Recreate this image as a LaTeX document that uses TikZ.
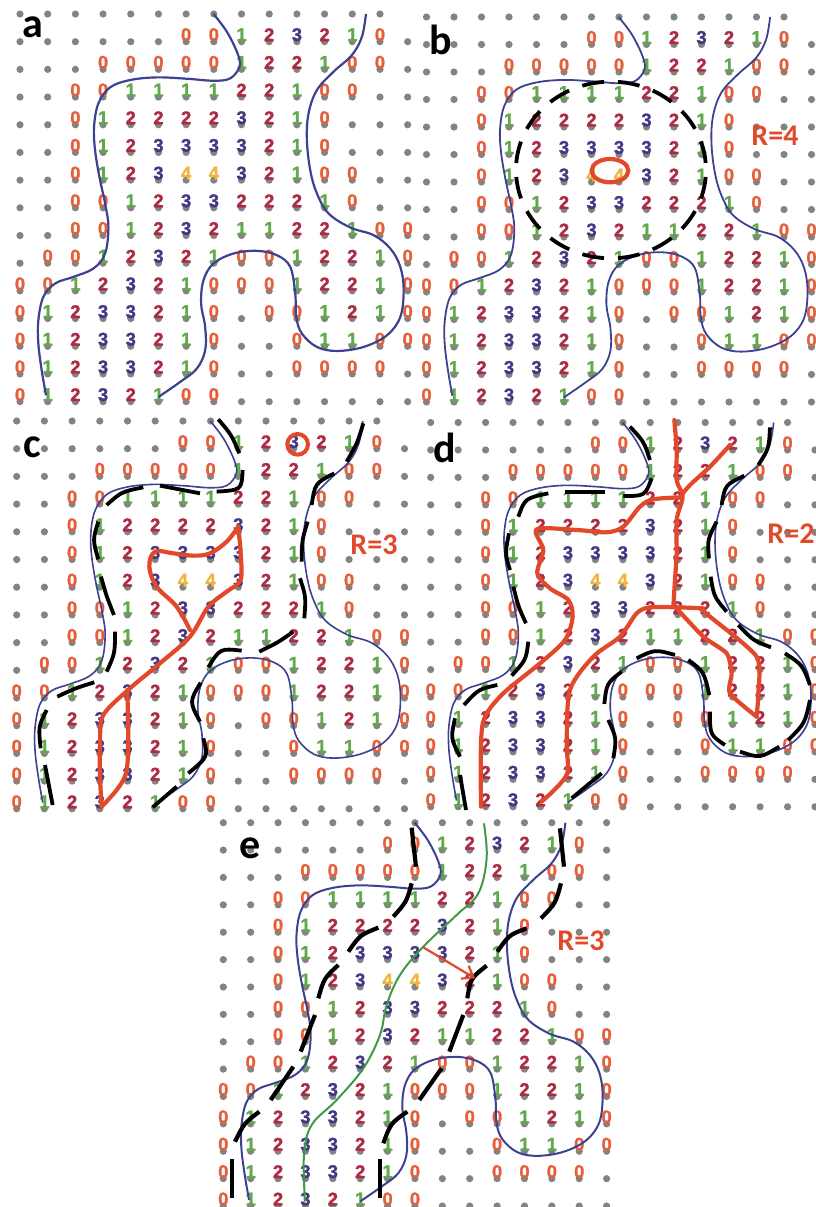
\documentclass[tikz,border=0pt]{standalone}
\usepackage{fontspec}
\usetikzlibrary{arrows.meta}
\newfontfamily\digitfont[BoldFeatures={FakeBold=1.3}]{Liberation Sans}
\newfontfamily\labelfont{Carlito}

\definecolor{zeroc}{HTML}{E5603A}
\definecolor{onec}{HTML}{62A84C}
\definecolor{twoc}{HTML}{AC2B42}
\definecolor{threec}{HTML}{433883}
\definecolor{fourc}{HTML}{EFB53E}
\definecolor{dotc}{HTML}{838383}
\definecolor{wallc}{HTML}{3C4191}
\definecolor{redc}{HTML}{E2492A}
\definecolor{greenc}{HTML}{3F9A48}

\tikzset{
  griddot/.style={fill=dotc},
  digit/.style={inner sep=0pt,font=\digitfont\bfseries\fontsize{18.5}{18.5}\selectfont},
  dig0/.style={text=zeroc},
  dig1/.style={text=onec},
  dig2/.style={text=twoc},
  dig3/.style={text=threec},
  dig4/.style={text=fourc},
  panelname/.style={inner sep=0pt,font=\labelfont\bfseries\fontsize{42}{42}\selectfont},
  radiusname/.style={inner sep=0pt,text=redc,font=\labelfont\bfseries\fontsize{30}{30}\selectfont},
  inkdash/.style={black,line width=3.8pt},
  redline/.style={redc,line width=4.2pt,line join=round,line cap=round},
  zoomed/.style 2 args={shift={(#1,#2)},x=0.3333pt,y=-0.3333pt},
}

% rows 1 to 14 of the grid, a dot alone is written .
\def\gridrows{
  {.,.,.,.,.,.,0,0,1,2,3,2,1,0,.},
  {.,.,.,0,0,0,0,0,1,2,2,1,0,0,.},
  {.,.,0,0,1,1,1,1,2,2,1,0,0,.,.},
  {.,.,0,1,2,2,2,2,3,2,1,0,.,.,.},
  {.,.,0,1,2,3,3,3,3,2,1,0,.,.,.},
  {.,.,0,1,2,3,4,4,3,2,1,0,0,.,.},
  {.,.,0,0,1,2,3,3,2,2,2,1,0,.,.},
  {.,.,0,0,1,2,3,2,1,1,2,2,1,0,0},
  {.,0,0,1,2,3,2,1,0,0,1,2,2,1,0},
  {0,0,1,2,3,2,1,0,0,0,1,2,2,1,0},
  {0,1,2,3,3,2,1,0,.,0,0,1,2,1,0},
  {0,1,2,3,3,2,1,0,.,.,0,1,1,0,0},
  {0,1,2,3,3,2,1,0,.,.,0,0,0,0,.},
  {0,1,2,3,2,1,0,0,.,.,.,.,.,.,.}}

% #1 name, #2 #3 first dot, #4 spacing, #5 last dot of top row, #6 wall width
\newcommand{\digitpanel}[6]{
  \begin{scope}[shift={(#2,#3)}]
    \foreach \cl in {0,...,#5} {
      \fill[griddot] (\cl*#4,0) circle (3.6);
    }
    \foreach \row [count=\rw] in \gridrows {
      \foreach \v [count=\cl from 0] in \row {
        \fill[griddot] (\cl*#4,\rw*#4) circle (3.6);
        \if\v.\else
          \node[digit,dig\v] (#1-\rw-\cl) at (\cl*#4,\rw*#4-7) {\v};
        \fi
      }
    }
    \pgfmathsetmacro\zk{#4/83}
    \begin{scope}[x=\zk pt,y=-\zk pt,shift={(-60,-42)}]
      \draw[wallc,line width=#6] plot[smooth,tension=0.6] coordinates {
        (640,42) (680,95) (712,160) (718,200) (690,235) (640,242) (560,236)
        (470,232) (390,240) (330,262) (295,310) (282,380) (285,450) (298,530)
        (315,610) (325,680) (315,760) (280,805) (220,830) (165,850) (130,890)
        (115,960) (115,1030) (125,1110) (138,1185)};
      \draw[wallc,line width=#6] plot[smooth,tension=0.6] coordinates {
        (1097,42) (1085,110) (1055,165) (1000,215) (950,270) (925,340) (920,420)
        (930,510) (950,580) (985,640) (1050,682) (1120,705) (1170,745) (1200,800)
        (1210,870) (1200,950) (1160,1005) (1090,1040) (1010,1052) (950,1040)
        (905,1000) (888,950) (885,880) (870,800) (830,765) (770,752) (700,760)
        (640,790) (610,840) (603,910) (615,980) (615,1050) (590,1105) (540,1145)
        (475,1190)};
    \end{scope}
  \end{scope}
}

\begin{document}
\begin{tikzpicture}[x=1pt,y=-1pt]
  \useasboundingbox (0,0) rectangle (815,1207);

  % === GRIDS ===
  \digitpanel{a}{20}{14}{27.69}{13}{2.2pt}
  \digitpanel{b}{426.5}{17}{27.5}{13}{1.8pt}
  \digitpanel{c}{16.7}{421}{27.7}{13}{1.6pt}
  \digitpanel{d}{430.7}{422.5}{27.45}{13}{1.6pt}
  \digitpanel{e}{223.3}{822.7}{27.38}{14}{2pt}

  % === PANEL b ===
  \begin{scope}[zoomed={410}{0}]
    \draw[inkdash,dash pattern=on 22pt off 14pt,dash phase=29pt]
      (603,510) ellipse (285 and 265);
    \draw[redc,line width=4.2pt] (600,512) ellipse (55 and 35);
  \end{scope}

  % === PANEL c ===
  \begin{scope}[zoomed={0}{410}]
    \foreach \p/\q/\s in {
      {655,28}/{695,75}/{718,130}, {728,180}/{725,240}/{650,245},
      {480,227}/{540,238}/{600,250}, {430,232}/{365,245}/{320,285},
      {295,335}/{278,390}/{295,448}, {303,500}/{320,560}/{342,615},
      {345,665}/{345,730}/{320,785}, {283,817}/{225,835}/{172,860},
      {140,900}/{115,950}/{122,1015}, {135,1065}/{147,1125}/{158,1185},
      {1090,40}/{1072,100}/{1040,155}, {1003,190}/{945,220}/{935,285},
      {923,335}/{906,390}/{905,455}, {900,505}/{918,560}/{913,625},
      {880,665}/{835,697}/{778,725}, {725,722}/{660,715}/{625,772},
      {602,818}/{568,875}/{600,935}, {610,985}/{625,1040}/{565,1090},
      {530,1130}/{494,1161}/{458,1192}} {
      \draw[inkdash] (\p) .. controls (\q) .. (\s);
    }
    \draw[redline] plot[smooth,tension=0.6] coordinates {
      (715,350) (680,395) (630,430) (580,437) (520,430) (465,425) (448,470)
      (470,530) (530,590) (570,660)};
    \draw[redline] plot[smooth,tension=0.5] coordinates {
      (715,350) (722,430) (722,510) (680,545) (625,590) (570,680) (480,760)
      (390,835) (310,915) (300,1000) (300,1100) (305,1190)};
    \draw[redline] plot[smooth,tension=0.5] coordinates {
      (305,1190) (350,1140) (378,1090) (385,1000) (382,840)};
    \draw[redc,line width=4pt] (893,103) circle (31);
  \end{scope}

  % === PANEL d ===
  \begin{scope}[zoomed={410}{410}]
    \foreach \p/\q/\s in {
      {660,50}/{702,95}/{720,150}, {725,205}/{705,258}/{640,258},
      {585,245}/{525,243}/{465,245}, {415,250}/{345,265}/{325,320},
      {297,370}/{285,430}/{300,480}, {310,530}/{325,590}/{348,640},
      {355,695}/{348,750}/{305,797}, {262,825}/{205,838}/{162,885},
      {135,925}/{122,985}/{150,1040}, {150,1095}/{159,1148}/{168,1200},
      {1080,52}/{1077,115}/{1045,165}, {1003,197}/{945,225}/{935,285},
      {920,335}/{892,390}/{897,445}, {902,500}/{912,560}/{950,605},
      {985,645}/{1030,692}/{1083,712}, {1125,730}/{1178,765}/{1200,825},
      {1200,870}/{1185,940}/{1135,990}, {1108,1010}/{1050,1045}/{990,1025},
      {945,1005}/{900,975}/{900,905}, {898,855}/{882,785}/{835,750},
      {795,735}/{735,718}/{680,745}, {635,785}/{590,820}/{583,882},
      {595,930}/{620,985}/{610,1045}, {575,1090}/{530,1127}/{485,1165}} {
      \draw[inkdash] (\p) .. controls (\q) .. (\s);
    }
    \draw[redline] plot[smooth,tension=0.5] coordinates {
      (793,30) (800,120) (800,210) (818,260) (800,330) (800,430) (795,510) (790,590)};
    \draw[redline] plot[smooth,tension=0.5] coordinates {
      (960,105) (900,170) (840,225) (815,255)};
    \draw[redline] plot[smooth,tension=0.5] coordinates {
      (815,262) (730,268) (690,290) (640,350) (590,367) (500,360) (380,358)
      (400,420) (382,490) (420,535) (475,570) (488,620) (465,690) (390,760)
      (280,850) (225,920) (213,1000) (213,1190)};
    \draw[redline] plot[smooth,tension=0.5] coordinates {
      (880,595) (800,592) (720,592) (680,610) (630,680) (550,740) (480,840)
      (470,1000) (470,1095) (395,1175)};
    \draw[redline] plot[smooth,tension=0.4] coordinates {
      (800,595) (880,680) (950,730) (965,790) (960,850) (1040,920)};
    \draw[redline] plot[smooth,tension=0.4] coordinates {
      (870,595) (900,620) (1040,740) (1045,850) (1040,920)};
  \end{scope}

  % === PANEL e ===
  \begin{scope}[zoomed={210}{815}]
    \draw[greenc,line width=2pt] plot[smooth,tension=0.6] coordinates {
      (822,25) (830,130) (805,235) (740,300) (640,395) (570,480) (530,570)
      (510,660) (460,760) (380,855) (305,930) (282,1020) (285,1160)};
    \foreach \p/\q/\s in {
      {605,38}/{611,96}/{618,155}, {605,205}/{590,260}/{550,305},
      {505,338}/{450,360}/{415,410}, {385,450}/{342,490}/{325,550},
      {315,600}/{293,655}/{272,710}, {250,755}/{216,805}/{182,855},
      {148,890}/{102,925}/{75,980}, {65,1032}/{65,1091}/{65,1150},
      {1050,40}/{1056,98}/{1062,155}, {1053,205}/{1037,265}/{993,310},
      {950,340}/{897,360}/{862,410}, {830,452}/{782,490}/{772,550},
      {760,600}/{739,655}/{718,710}, {695,760}/{661,807}/{628,855},
      {592,890}/{542,925}/{520,985}, {510,1032}/{510,1091}/{510,1150}} {
      \draw[inkdash,line width=4.2pt] (\p) .. controls (\q) .. (\s);
    }
    \coordinate (pushstart) at (640,397);
    \coordinate (pushend) at (795,490);
    \draw[redc,line width=2.2pt,-{Straight Barb[length=10pt,width=15pt]}] (pushstart) -- (pushend);
  \end{scope}

  % === LABELS ===
  \node[panelname] (namea) at (33,27) {a};
  \node[panelname] (nameb) at (441,40) {b};
  \node[panelname] (namec) at (32,447) {c};
  \node[panelname] (named) at (445,448) {d};
  \node[panelname] (namee) at (250,848) {e};
  \node[radiusname] (radb) at (775,136) {R=4};
  \node[radiusname] (radc) at (374,545) {R=3};
  \node[radiusname] (radd) at (791,534) {R=2};
  \node[radiusname] (rade) at (581,941) {R=3};
\end{tikzpicture}
\end{document}
